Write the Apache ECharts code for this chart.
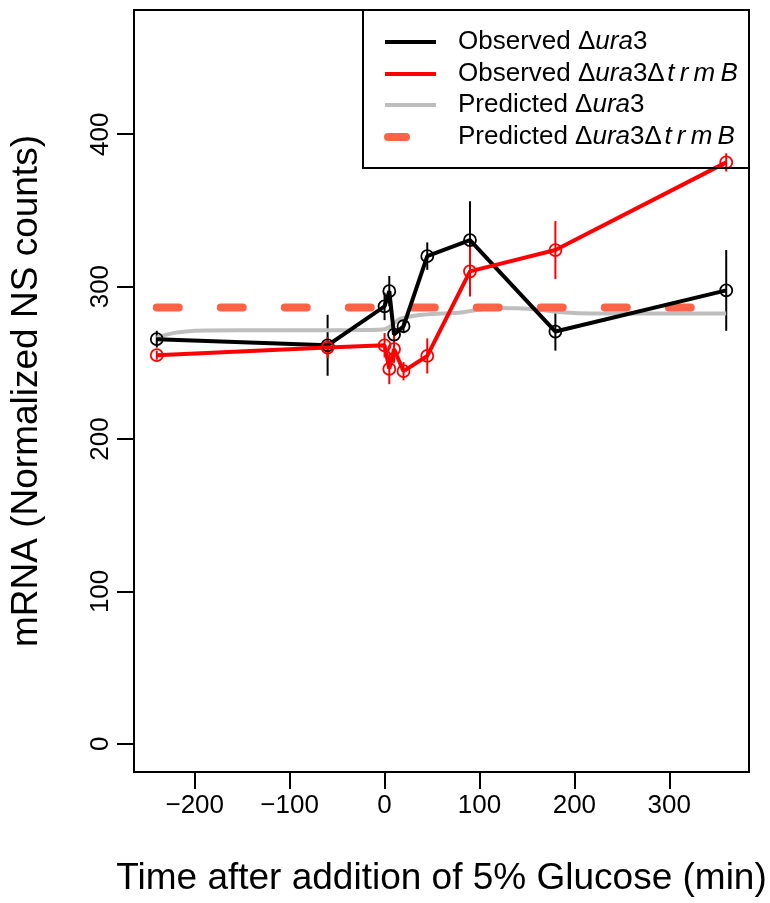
<!DOCTYPE html>
<html>
<head>
<meta charset="utf-8">
<script src="https://cdn.jsdelivr.net/npm/echarts@6/dist/echarts.min.js"></script>
<style>
  html, body { margin: 0; padding: 0; background: #fff; }
  #chart { width: 770px; height: 903px; }
</style>
</head>
<body>
<div id="chart"></div>
<script>
// ---- data ----
const times = [-240, -60, 0, 5, 10, 20, 45, 90, 180, 360];
const obsUra3 = [265.5, 261.5, 287, 297, 268.5, 274, 320, 330.5, 270.5, 297.5];
const obsUra3Err = [5.5, 20, 9, 10, 5, 4, 9, 25.5, 12.5, 26.5];
const obsTrmB = [255, 260, 261.5, 246, 259, 244.5, 254.5, 310, 324, 381.5];
const obsTrmBErr = [3, 7, 8, 10, 9, 6, 11.5, 16.5, 19, 6];

const predTimes = [-240, -230, -220, -210, -200, -150, -100, -50, -20, 0, 5, 10, 15, 20, 30, 40, 50, 60, 80, 100, 120, 140, 160, 180, 200, 220, 250, 300, 360];
const predUra3 = [266.5, 268.5, 269.8, 270.5, 271, 271.3, 271.3, 271.4, 271.5, 272, 273.5, 276, 278.5, 279.5, 280.7, 281.5, 282, 282.3, 283, 285, 286, 285.8, 285, 283.5, 282.7, 282.4, 282.3, 282.3, 282.3];
const predTrmBTimes = [-240, 360];
const predTrmB = [286.3, 286.3];

const xTicks = [-200, -100, 0, 100, 200, 300];
const yTicks = [0, 100, 200, 300, 400];

const labelsLegend = [
  '{n|Observed Δ}{i|ura}{n|3}',
  '{n|Observed Δ}{i|ura}{n|3Δ}{s|t}{s|r}{s|m}{s|B}',
  '{n|Predicted Δ}{i|ura}{n|3}',
  '{n|Predicted Δ}{i|ura}{n|3Δ}{s|t}{s|r}{s|m}{s|B}'
];

// ---- helpers ----
const FONT = "'Liberation Sans', Arial, Helvetica, sans-serif";
const pairs = (xs, ys) => xs.map((x, i) => [x, ys[i]]);
const errData = (xs, ys, es) => xs.map((x, i) => [x, ys[i] - es[i], ys[i] + es[i]]);
const errSeries = (name, data, color) => ({
  name: name,
  type: 'custom',
  data: data,
  encode: { x: 0, y: [1, 2] },
  silent: true,
  renderItem: function (params, api) {
    const x = api.value(0);
    const p1 = api.coord([x, api.value(1)]);
    const p2 = api.coord([x, api.value(2)]);
    return {
      type: 'line',
      shape: { x1: p1[0], y1: p1[1], x2: p2[0], y2: p2[1] },
      style: { stroke: color, lineWidth: 2 }
    };
  }
});
const obsSeries = (name, data, color) => ({
  name: name,
  type: 'line',
  data: data,
  symbol: 'circle',
  symbolSize: 12,
  showAllSymbol: true,
  lineStyle: { color: color, width: 4 },
  itemStyle: { color: 'rgba(0,0,0,0)', borderColor: color, borderWidth: 1.8 },
  emphasis: { disabled: true },
  animation: false
});

const chart = echarts.init(document.getElementById('chart'), null, { renderer: 'canvas' });

const legendX = 385, legendW = 51, textX = 458;
const rowsY = [42, 74, 105, 137];

const graphics = [
  { type: 'rect', shape: { x: 363, y: 10, width: 386, height: 158 },
    style: { fill: 'none', stroke: '#000', lineWidth: 2 }, z: 100 },
  { type: 'line', shape: { x1: legendX, y1: rowsY[0], x2: legendX + legendW, y2: rowsY[0] },
    style: { stroke: '#000', lineWidth: 4 }, z: 100 },
  { type: 'line', shape: { x1: legendX, y1: rowsY[1], x2: legendX + legendW, y2: rowsY[1] },
    style: { stroke: '#FF0000', lineWidth: 4 }, z: 100 },
  { type: 'line', shape: { x1: legendX, y1: rowsY[2], x2: legendX + legendW, y2: rowsY[2] },
    style: { stroke: '#BEBEBE', lineWidth: 4 }, z: 100 },
  { type: 'line', shape: { x1: 388, y1: rowsY[3], x2: 406, y2: rowsY[3] },
    style: { stroke: '#FF6347', lineWidth: 8, lineCap: 'round' }, z: 100 }
];
labelsLegend.forEach((t, i) => {
  graphics.push({
    type: 'text', x: textX, y: rowsY[i], z: 100,
    style: {
      text: t, verticalAlign: 'middle', align: 'left',
      rich: {
        n: { fontSize: 26, fontFamily: FONT, fill: '#000' },
        i: { fontSize: 26, fontFamily: FONT, fontStyle: 'italic', fill: '#000' },
        s: { fontSize: 26, fontFamily: FONT, fontStyle: 'italic', fill: '#000', padding: [0, 2.6, 0, 2.6] }
      }
    }
  });
});

const option = {
  animation: false,
  backgroundColor: '#fff',
  grid: {
    left: 131, top: 10, width: 618, height: 762,
    show: true, borderColor: '#000', borderWidth: 2, backgroundColor: 'transparent'
  },
  xAxis: {
    type: 'value', min: -264, max: 384,
    name: 'Time after addition of 5% Glucose (min)',
    nameLocation: 'middle', nameGap: 88,
    nameTextStyle: { fontSize: 37, fontFamily: FONT, color: '#000' },
    axisLine: { show: false, onZero: false },
    splitLine: { show: false },
    axisTick: { show: true, inside: false, length: 17, customValues: xTicks,
      lineStyle: { color: '#000', width: 2 } },
    axisLabel: { show: true, margin: 21, customValues: xTicks, fontSize: 26, fontFamily: FONT, color: '#000',
      formatter: v => String(v).replace('-', '\u2212') }
  },
  yAxis: {
    type: 'value', min: -18.5, max: 481.5,
    name: 'mRNA (Normalized NS counts)',
    nameLocation: 'middle', nameGap: 89, nameRotate: 90,
    nameTextStyle: { fontSize: 37, fontFamily: FONT, color: '#000' },
    axisLine: { show: false, onZero: false },
    splitLine: { show: false },
    axisTick: { show: true, inside: false, length: 17, customValues: yTicks,
      lineStyle: { color: '#000', width: 2 } },
    axisLabel: { show: true, margin: 20, rotate: 90, customValues: yTicks, fontSize: 26, fontFamily: FONT, color: '#000' }
  },
  graphic: graphics,
  series: [
    {
      name: 'Predicted Δura3',
      type: 'line', data: pairs(predTimes, predUra3),
      smooth: 0.3, symbol: 'none',
      lineStyle: { color: '#BEBEBE', width: 4 },
      emphasis: { disabled: true }
    },
    {
      name: 'Predicted Δura3ΔtrmB',
      type: 'line', data: pairs(predTrmBTimes, predTrmB),
      symbol: 'none',
      lineStyle: { color: '#FF6347', width: 8, type: [22, 42], cap: 'round' },
      emphasis: { disabled: true }
    },
    obsSeries('Observed Δura3', pairs(times, obsUra3), '#000000'),
    errSeries('Observed Δura3 error', errData(times, obsUra3, obsUra3Err), '#000000'),
    obsSeries('Observed Δura3ΔtrmB', pairs(times, obsTrmB), '#FF0000'),
    errSeries('Observed Δura3ΔtrmB error', errData(times, obsTrmB, obsTrmBErr), '#FF0000')
  ]
};
chart.setOption(option);
</script>
</body>
</html>
